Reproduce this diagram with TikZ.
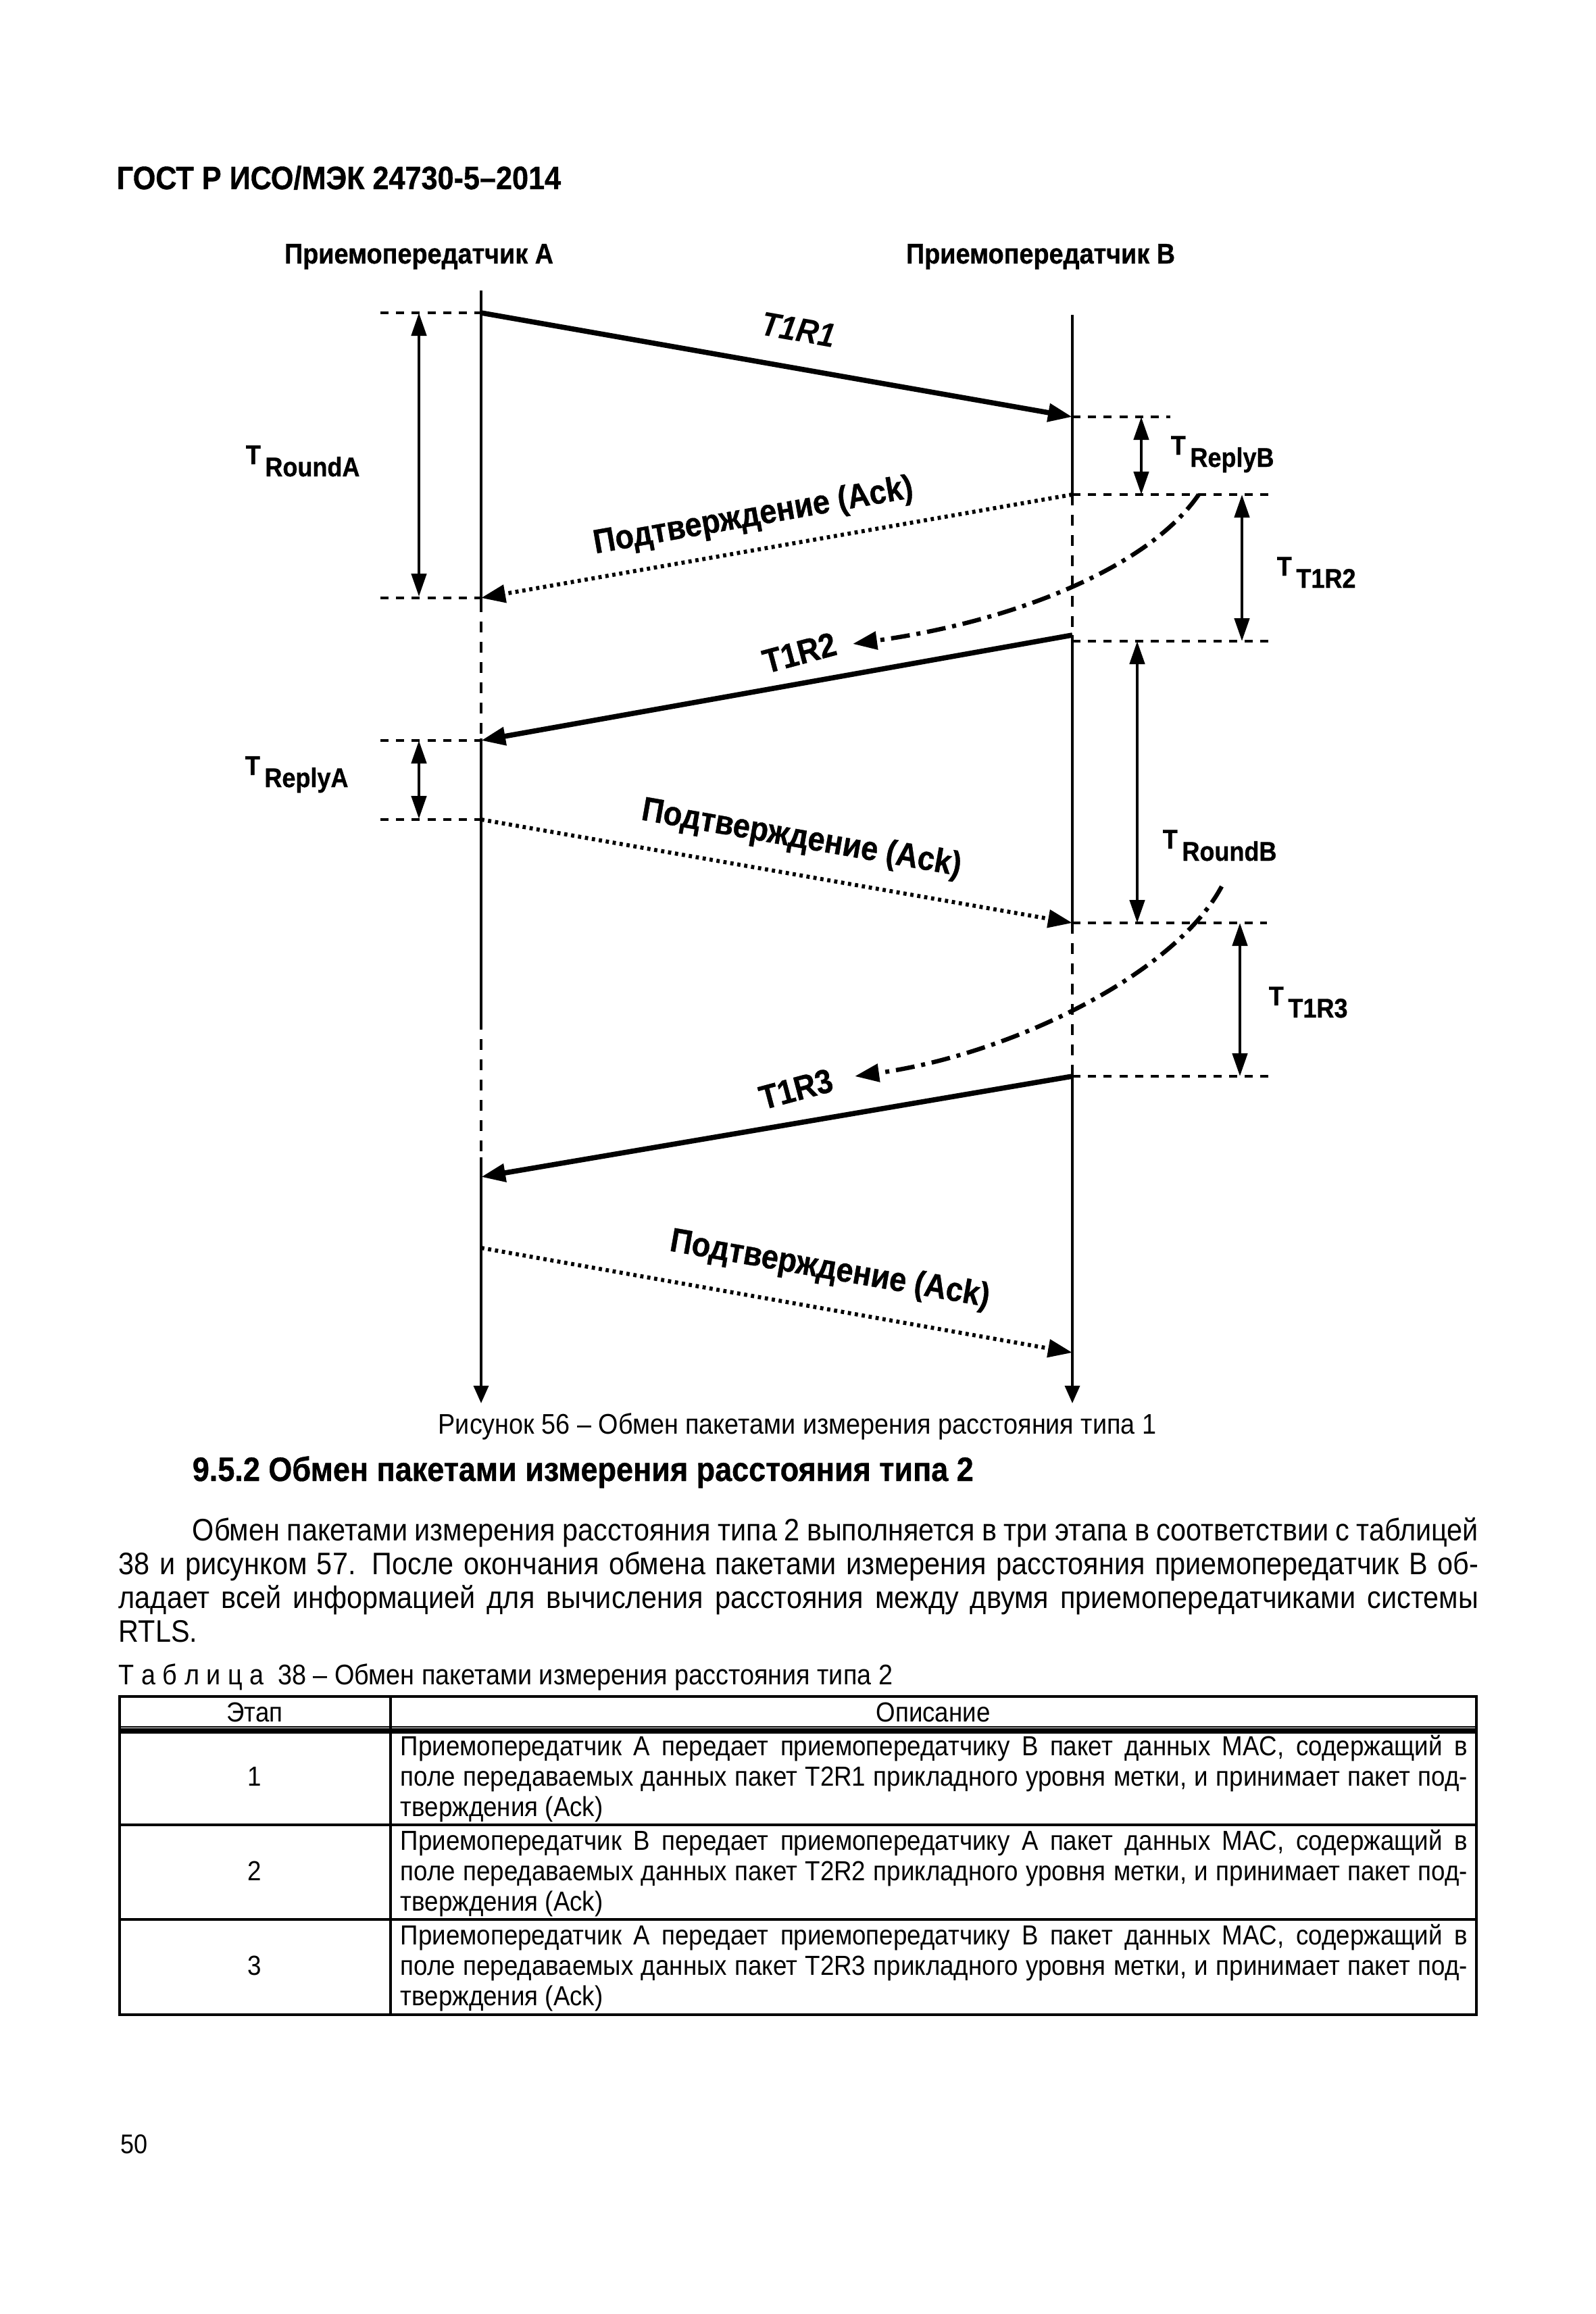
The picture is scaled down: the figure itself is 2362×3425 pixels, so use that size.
\documentclass[tikz,border=0pt]{standalone}
\usepackage{fontspec}
\setmainfont{Liberation Sans}[FakeStretch=0.9,BoldFeatures={FakeBold=0.8}]
\usetikzlibrary{arrows.meta}

\newcommand{\fsz}[1]{\fontsize{#1}{#1}\selectfont}
\newcommand{\fillline}[2]{\makebox[#1][s]{#2}}

\begin{document}
\begin{tikzpicture}[x=0.25pt,y=-0.25pt,
  life/.style={line width=0.9pt},
  lifegap/.style={line width=0.9pt,dash pattern=on 4pt off 3.5pt},
  msg/.style={line width=1.9pt,-{Triangle[length=9pt,width=6.5pt]}},
  ack/.style={line width=1.5pt,dash pattern=on 1.2pt off 1.4pt,-{Triangle[length=9pt,width=6.5pt]}},
  retry/.style={line width=1.6pt,dash pattern=on 7pt off 2.5pt on 1.5pt off 2.5pt,-{Triangle[length=9pt,width=6.5pt]}},
  span/.style={line width=1.2pt,{Triangle[length=8.5pt,width=5.5pt]}-{Triangle[length=8.5pt,width=5.5pt]}},
  tick/.style={line width=1pt,dash pattern=on 3pt off 2.8pt},
  head/.style={anchor=base,inner sep=0pt,font=\bfseries\fsz{10.5}},
  lbl/.style={inner sep=0pt,font=\bfseries\fsz{12.5}},
  tlbl/.style={anchor=base west,inner sep=0pt,font=\bfseries\fsz{10}},
  txt/.style={anchor=base west,inner sep=0pt,font=\fsz{11.5}},
  cell/.style={anchor=base west,inner sep=0pt,font=\fsz{10.2}}
]
  \useasboundingbox (0,0) rectangle (2362,3425);

  % Page header
  \node[anchor=base west,inner sep=0pt,font=\bfseries\fsz{12}] (gost) at (172,280) {ГОСТ Р ИСО/МЭК 24730-5–2014};

  % Transceivers
  \node[head] (ta) at (620,390) {Приемопередатчик A};
  \node[head] (tb) at (1540,390) {Приемопередатчик B};

  % Lifelines
  \coordinate (A0) at (712,430);  \coordinate (A1) at (712,890);
  \coordinate (A2) at (712,1093); \coordinate (A3) at (712,1508);
  \coordinate (A4) at (712,1713); \coordinate (A5) at (712,2077);
  \coordinate (B0) at (1587,466); \coordinate (B1) at (1587,732);
  \coordinate (B2) at (1587,940); \coordinate (B3) at (1587,1366);
  \coordinate (B4) at (1587,1593); \coordinate (B5) at (1587,2077);
  \draw[life] (A0) -- (A1);
  \draw[lifegap] (A1) -- (A2);
  \draw[life] (A2) -- (A3);
  \draw[lifegap] (A3) -- (A4);
  \draw[life,-{Triangle[length=6.5pt,width=5.5pt]}] (A4) -- (A5);
  \draw[life] (B0) -- (B1);
  \draw[lifegap] (B1) -- (B2);
  \draw[life] (B2) -- (B3);
  \draw[lifegap] (B3) -- (B4);
  \draw[life,-{Triangle[length=6.5pt,width=5.5pt]}] (B4) -- (B5);

  % Time marks
  \foreach \y in {463,885,1096,1213}
    \draw[tick] (563,\y) -- (712,\y);
  \draw[tick] (1587,617) -- (1732,617);
  \foreach \y/\x in {732/1883,949/1877,1366/1875,1593/1883}
    \draw[tick] (1587,\y) -- (\x,\y);

  % Packets
  \coordinate (a1) at (712,463);  \coordinate (b1) at (1587,617);
  \coordinate (b2) at (1587,732); \coordinate (a2) at (712,885);
  \coordinate (a3) at (712,1096);
  \coordinate (a4) at (712,1213); \coordinate (b4) at (1587,1366);
  \coordinate (a5) at (712,1742);
  \coordinate (a6) at (712,1847); \coordinate (b6) at (1587,2002);
  \draw[msg] (a1) -- (b1);
  \draw[ack] (b2) -- (a2);
  \draw[msg] (B2) -- (a3);
  \draw[ack] (a4) -- (b4);
  \draw[msg] (B4) -- (a5);
  \draw[ack] (a6) -- (b6);

  % Retries
  \coordinate (r1) at (1774,732);  \coordinate (r1e) at (1262,953);
  \coordinate (r2) at (1808,1312); \coordinate (r2e) at (1265,1593);
  \draw[retry] (r1) .. controls (1700,840) and (1500,920) .. (r1e);
  \draw[retry] (r2) .. controls (1740,1440) and (1500,1560) .. (r2e);

  % Packet labels
  \node[lbl,rotate=-10] (l1) at (1182,488) {\itshape T1R1};
  \node[lbl,rotate=10] (k1) at (1115,765) {Подтверждение (Ack)};
  \node[lbl,rotate=15] (l2) at (1183,966) {T1R2};
  \node[lbl,rotate=-10] (k2) at (1186,1242) {Подтверждение (Ack)};
  \node[lbl,rotate=15] (l3) at (1178,1612) {T1R3};
  \node[lbl,rotate=-10] (k3) at (1228,1880) {Подтверждение (Ack)};

  % Intervals
  \draw[span] (620,463) -- (620,883);
  \draw[span] (1689,617) -- (1689,732);
  \draw[span] (1838,732) -- (1838,949);
  \draw[span] (620,1096) -- (620,1212);
  \draw[span] (1683,949) -- (1683,1366);
  \draw[span] (1835,1366) -- (1835,1593);
  \node[tlbl] (troa) at (363,687) {T\raisebox{-4.5pt}{\,RoundA}};
  \node[tlbl] (treb) at (1732,673) {T\raisebox{-4.5pt}{\,ReplyB}};
  \node[tlbl] (tt2) at (1889,852) {T\raisebox{-4.5pt}{\,T1R2}};
  \node[tlbl] (trea) at (362,1147) {T\raisebox{-4.5pt}{\,ReplyA}};
  \node[tlbl] (trob) at (1720,1256) {T\raisebox{-4.5pt}{\,RoundB}};
  \node[tlbl] (tt3) at (1877,1488) {T\raisebox{-4.5pt}{\,T1R3}};

  % Caption and text
  \node[anchor=base,inner sep=0pt,font=\fsz{10.5}] (cap) at (1180,2122) {Рисунок 56 – Обмен пакетами измерения расстояния типа 1};
  \node[txt,font=\bfseries\fsz{12.5}] (sec) at (284,2192) {9.5.2 Обмен пакетами измерения расстояния типа 2};
  \node[txt] (p1) at (284,2280) {\fillline{475.75pt}{Обмен пакетами измерения расстояния типа 2 выполняется в три этапа в соответствии с таблицей}};
  \node[txt] (p2) at (175,2330) {\fillline{503pt}{38 и рисунком 57. После окончания обмена пакетами измерения расстояния приемопередатчик В об-}};
  \node[txt] (p3) at (175,2380) {\fillline{503pt}{ладает всей информацией для вычисления расстояния между двумя приемопередатчиками системы}};
  \node[txt] (p4) at (175,2430) {RTLS.};

  % Table
  \node[cell,font=\fsz{10.5}] (tcap) at (175,2493) {Т а б л и ц а \ 38 – Обмен пакетами измерения расстояния типа 2};
  \draw[line width=1pt] (177,2511) rectangle (2185,2982);
  \draw[line width=0.8pt] (578,2511) -- (578,2982);
  \draw[line width=0.6pt] (177,2556) -- (2185,2556);
  \draw[line width=2pt] (177,2562) -- (2185,2562);
  \draw[line width=1pt] (177,2701) -- (2185,2701);
  \draw[line width=1pt] (177,2841) -- (2185,2841);
  \node[cell,anchor=base] (h1) at (377,2548) {Этап};
  \node[cell,anchor=base] (h2) at (1381,2548) {Описание};
  \foreach \n/\y/\f/\t in {1/2598/A/B,2/2738/B/A,3/2878/A/B} {
    \node[cell,anchor=base] at (377,\y+45) {\n};
    \node[cell] at (592,\y) {\fillline{394.75pt}{Приемопередатчик \f\ передает приемопередатчику \t\ пакет данных MAC, содержащий в}};
    \node[cell] at (592,\y+45) {\fillline{394.75pt}{поле передаваемых данных пакет T2R\n\ прикладного уровня метки, и принимает пакет под-}};
    \node[cell] at (592,\y+90) {тверждения (Ack)};
  }

  % Page number
  \node[anchor=base west,inner sep=0pt,font=\fsz{10}] (pg) at (178,3187) {50};
\end{tikzpicture}
\end{document}
